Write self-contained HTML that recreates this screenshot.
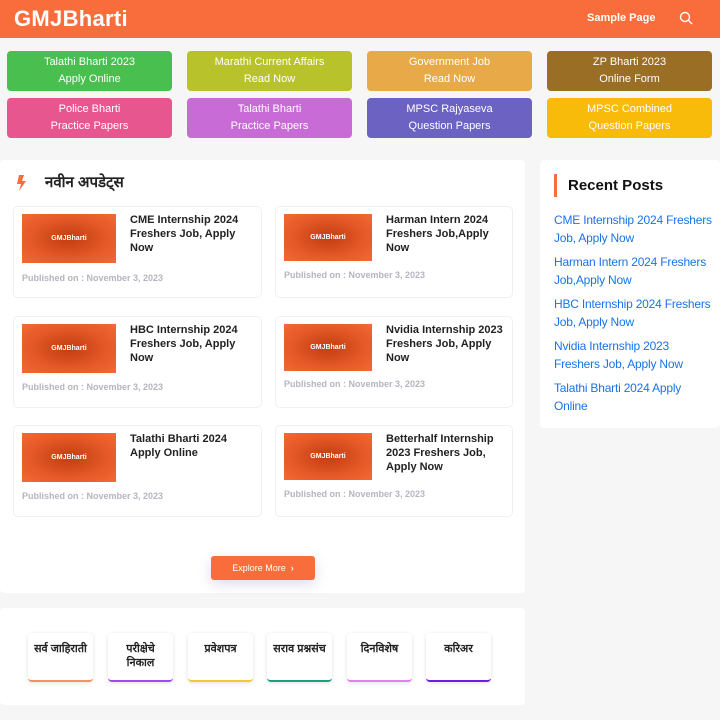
<!DOCTYPE html>
<html><head><meta charset="utf-8"><style>
*{margin:0;padding:0;box-sizing:border-box}
body{width:720px;height:720px;background:#f6f6f6;font-family:"Liberation Sans","Noto Sans CJK SC",sans-serif;position:relative;overflow:hidden}
.a{position:absolute}
.hdr{left:0;top:0;width:720px;height:38px;background:#f96d3d}
.logo{left:14px;top:6px;color:#fff;font-weight:bold;font-size:22px;letter-spacing:0.3px}
.btn{position:absolute;width:165px;height:40px;border-radius:4px;color:#fff;font-size:11px;line-height:17px;text-align:center;padding-top:3px}
.panel{background:#fff;border-radius:4px}
.card{position:absolute;width:249px;height:92px;background:#fff;border:1px solid #f0f0f0;border-radius:5px}
.img{position:absolute;left:8px;top:7px;width:94px;height:49px;background:radial-gradient(ellipse at center,#c23d10 0%,#e55a28 60%,#f26a35 100%);color:#fff;font-size:7px;font-weight:bold;text-align:center;line-height:49px}
.t{position:absolute;left:116px;top:6px;width:128px;font-size:11px;font-weight:bold;color:#222;line-height:14px}
.p{position:absolute;left:8px;font-size:9px;color:#b5b5c0;font-weight:bold}
.sl{position:absolute;left:554px;width:162px;font-size:12px;line-height:18px;color:#1a73e8;letter-spacing:-0.2px}
.tile{position:absolute;top:633px;width:65px;height:49px;background:#fff;border-radius:4px;box-shadow:0 1px 4px rgba(0,0,0,.12);font-size:11px;font-weight:bold;color:#222;text-align:center;padding-top:9px;line-height:14px}
</style></head><body>
<div class="a hdr"></div>
<div class="a logo">GMJBharti</div>
<div class="a" style="left:587px;top:12px;color:#fff;font-size:11px;font-weight:bold">Sample Page</div>
<svg class="a" style="left:679px;top:11px" width="14" height="14"><circle cx="6" cy="6" r="4.5" stroke="#fff" stroke-width="1.4" fill="none"/><line x1="9.3" y1="9.3" x2="13" y2="13" stroke="#fff" stroke-width="1.4"/></svg>

<div class="btn" style="left:7px;top:51px;background:#48bf4e">Talathi Bharti 2023<br>Apply Online</div>
<div class="btn" style="left:187px;top:51px;background:#b8c22a">Marathi Current Affairs<br>Read Now</div>
<div class="btn" style="left:367px;top:51px;background:#e8aa48">Government Job<br>Read Now</div>
<div class="btn" style="left:547px;top:51px;background:#9b6e25">ZP Bharti 2023<br>Online Form</div>
<div class="btn" style="left:7px;top:98px;background:#e8568f">Police Bharti<br>Practice Papers</div>
<div class="btn" style="left:187px;top:98px;background:#c86bd6">Talathi Bharti<br>Practice Papers</div>
<div class="btn" style="left:367px;top:98px;background:#6b62c1">MPSC Rajyaseva<br>Question Papers</div>
<div class="btn" style="left:547px;top:98px;background:#f8bb0a">MPSC Combined<br>Question Papers</div>

<div class="a panel" style="left:0;top:160px;width:525px;height:433px"></div>
<svg class="a" style="left:16px;top:175px" width="10" height="16"><polygon points="3,0 8,0 6,6 10,6 3,16 5,9 1,9" fill="#f96d3d"/></svg>
<div class="a" style="left:45px;top:172px;font-size:15px;font-weight:bold;color:#222">नवीन अपडेट्स</div>

<div class="card" style="left:13px;top:206px"><div class="img">GMJBharti</div><div class="t">CME Internship 2024 Freshers Job, Apply Now</div><div class="p" style="top:66px">Published on : November 3, 2023</div></div>
<div class="card" style="left:275px;top:206px;width:238px"><div class="img" style="width:88px;height:47px;line-height:47px">GMJBharti</div><div class="t" style="left:110px">Harman Intern 2024 Freshers Job,Apply Now</div><div class="p" style="top:63px">Published on : November 3, 2023</div></div>
<div class="card" style="left:13px;top:316px"><div class="img">GMJBharti</div><div class="t">HBC Internship 2024 Freshers Job, Apply Now</div><div class="p" style="top:65px">Published on : November 3, 2023</div></div>
<div class="card" style="left:275px;top:316px;width:238px"><div class="img" style="width:88px;height:47px;line-height:47px">GMJBharti</div><div class="t" style="left:110px">Nvidia Internship 2023 Freshers Job, Apply Now</div><div class="p" style="top:62px">Published on : November 3, 2023</div></div>
<div class="card" style="left:13px;top:425px"><div class="img">GMJBharti</div><div class="t">Talathi Bharti 2024 Apply Online</div><div class="p" style="top:65px">Published on : November 3, 2023</div></div>
<div class="card" style="left:275px;top:425px;width:238px"><div class="img" style="width:88px;height:47px;line-height:47px">GMJBharti</div><div class="t" style="left:110px">Betterhalf Internship 2023 Freshers Job, Apply Now</div><div class="p" style="top:63px">Published on : November 3, 2023</div></div>

<div class="a" style="left:211px;top:556px;width:104px;height:24px;background:#f96d3d;border-radius:3px;box-shadow:0 4px 12px rgba(120,120,180,.25);color:#fff;font-size:9px;line-height:24px;text-align:center">Explore More &nbsp;<b>›</b></div>

<div class="a panel" style="left:540px;top:160px;width:180px;height:268px"></div>
<div class="a" style="left:554px;top:174px;width:3px;height:23px;background:#f96d3d"></div>
<div class="a" style="left:568px;top:177px;font-size:15px;font-weight:bold;color:#111">Recent Posts</div>
<div class="sl" style="top:211px">CME Internship 2024 Freshers Job, Apply Now</div>
<div class="sl" style="top:253px">Harman Intern 2024 Freshers Job,Apply Now</div>
<div class="sl" style="top:295px">HBC Internship 2024 Freshers Job, Apply Now</div>
<div class="sl" style="top:337px">Nvidia Internship 2023 Freshers Job, Apply Now</div>
<div class="sl" style="top:379px">Talathi Bharti 2024 Apply Online</div>

<div class="a panel" style="left:0;top:608px;width:525px;height:97px"></div>
<div class="tile" style="left:28px;border-bottom:2px solid #f7905f">सर्व जाहिराती</div>
<div class="tile" style="left:108px;border-bottom:2px solid #9b4ef0">परीक्षेचे<br>निकाल</div>
<div class="tile" style="left:188px;border-bottom:2px solid #f2c634">प्रवेशपत्र</div>
<div class="tile" style="left:267px;border-bottom:2px solid #1e9e80">सराव प्रश्नसंच</div>
<div class="tile" style="left:347px;border-bottom:2px solid #e87bf0">दिनविशेष</div>
<div class="tile" style="left:426px;border-bottom:2px solid #6a22e0">करिअर</div>
</body></html>
